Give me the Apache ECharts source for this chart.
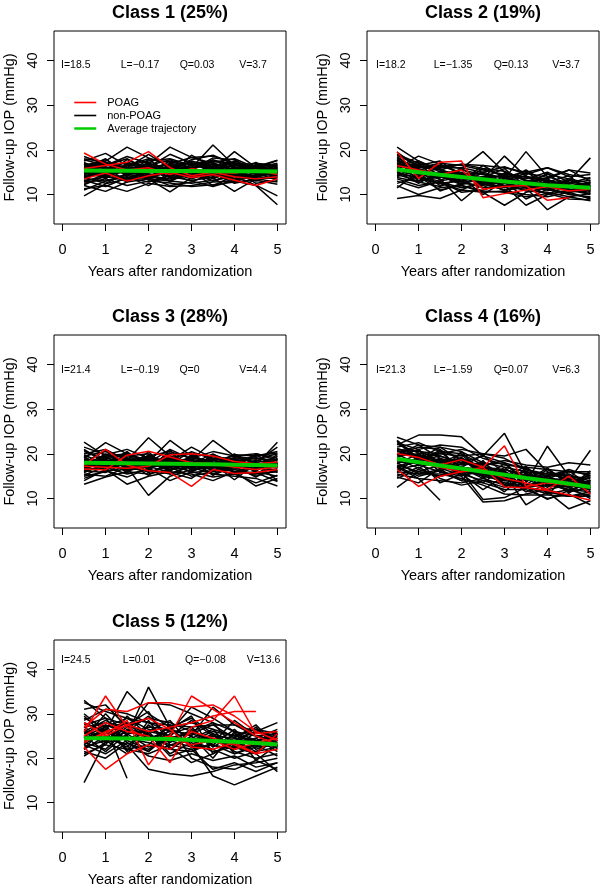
<!DOCTYPE html>
<html>
<head>
<meta charset="utf-8">
<script src="https://cdn.jsdelivr.net/npm/echarts@6/dist/echarts.min.js"></script>
<style>html,body{margin:0;padding:0;background:#fff}#c{width:600px;height:888px}</style>
</head>
<body>
<div id="c"></div>
<script>
// ---------- data ----------
const T = [0.5, 1, 1.5, 2, 2.5, 3, 3.5, 4, 4.5, 5];
const xTicks = [0, 1, 2, 3, 4, 5];
const yTicks = [10, 20, 30, 40];
const titles = ['Class 1 (25%)', 'Class 2 (19%)', 'Class 3 (28%)', 'Class 4 (16%)', 'Class 5 (12%)'];
const stats = [
  ['I=18.5', 'L=\u22120.17', 'Q=0.03', 'V=3.7'],
  ['I=18.2', 'L=\u22121.35', 'Q=0.13', 'V=3.7'],
  ['I=21.4', 'L=\u22120.19', 'Q=0', 'V=4.4'],
  ['I=21.3', 'L=\u22121.59', 'Q=0.07', 'V=6.3'],
  ['I=24.5', 'L=0.01', 'Q=\u22120.08', 'V=13.6']
];
const legendNames = ['POAG', 'non-POAG', 'Average trajectory'];

const c1Black = [
  [9.7, 12.4, 13.5, 14.0, 13.2, 14.5, 13.8, 14.6, 13.9, 14.8],
  [17.5, 19.2, 16.5, 18.0, 17.2, 16.8, 17.5, 17.0, 16.2, 17.7],
  [16.0, 17.5, 20.6, 18.2, 16.5, 15.9, 16.8, 15.5, 16.1, 15.3],
  [14.2, 15.0, 15.5, 16.8, 20.6, 18.3, 17.0, 16.0, 15.2, 16.0],
  [15.5, 16.2, 15.0, 14.8, 15.5, 16.0, 21.1, 16.5, 15.7, 14.9],
  [13.0, 14.0, 13.2, 14.0, 15.0, 14.2, 15.5, 19.6, 16.0, 15.1],
  [12.0, 10.7, 12.8, 13.5, 13.0, 12.5, 13.2, 14.0, 12.1, 9.7],
  [11.3, 12.0, 10.7, 12.5, 11.8, 12.0, 12.8, 13.0, 12.0, 7.7],
  [14.8, 13.8, 14.2, 13.5, 10.6, 13.8, 14.6, 13.5, 14.2, 15.0],
  [16.5, 15.8, 17.2, 16.0, 16.9, 18.3, 18.6, 17.0, 16.5, 16.2],
  [15.0, 16.8, 15.5, 16.2, 15.8, 17.8, 18.8, 16.8, 15.9, 17.6],
  [13.5, 13.0, 14.5, 15.2, 14.0, 13.2, 13.8, 10.7, 13.5, 14.0],
  [17.0, 16.0, 16.5, 17.5, 18.0, 16.5, 15.8, 16.5, 17.0, 16.5],
  [14.0, 14.8, 13.5, 15.0, 16.2, 14.5, 15.2, 14.0, 14.8, 13.2],
  [16.2, 14.5, 17.8, 15.5, 14.5, 16.2, 14.0, 15.8, 16.5, 15.5],
  [12.5, 13.5, 12.0, 13.0, 12.6, 11.8, 12.2, 12.8, 13.2, 12.3],
  [18.0, 17.2, 16.0, 15.0, 17.5, 16.0, 17.2, 18.0, 16.0, 15.8],
  [13.8, 12.5, 14.8, 14.2, 13.5, 15.5, 13.0, 14.5, 13.0, 14.5],
  [15.8, 18.0, 14.5, 13.8, 15.0, 14.0, 16.5, 15.0, 14.2, 16.8],
  [11.0, 13.0, 14.0, 12.0, 14.5, 13.0, 11.8, 13.2, 14.0, 13.5],
  [16.8, 15.2, 16.0, 19.0, 16.0, 15.0, 14.5, 14.8, 15.5, 15.2],
  [14.5, 16.0, 13.0, 14.5, 13.0, 17.0, 16.0, 13.5, 15.0, 14.0],
  [15.2, 14.2, 15.8, 15.0, 16.5, 15.2, 12.0, 14.2, 13.8, 16.2],
  [17.8, 16.5, 18.5, 17.0, 15.5, 17.5, 16.2, 17.2, 15.2, 14.4],
  [12.8, 14.5, 16.0, 13.8, 12.0, 12.8, 14.8, 12.5, 13.5, 12.8],
  [16.5, 17.8, 15.2, 16.5, 17.8, 15.8, 17.8, 16.2, 14.5, 15.8],
  [13.2, 11.8, 13.8, 12.8, 14.2, 15.8, 13.5, 15.5, 12.5, 13.0],
  [14.6, 15.5, 14.8, 17.8, 14.8, 13.5, 15.0, 17.5, 15.8, 14.7],
  [15.9, 13.5, 16.8, 15.8, 13.8, 16.8, 15.5, 13.0, 16.8, 16.5],
  [18.5, 16.8, 17.0, 16.2, 19.0, 17.0, 17.5, 16.5, 16.0, 17.0],
  [16.2, 17.0, 14.2, 16.5, 15.2, 14.0, 17.0, 15.2, 14.0, 15.5],
  [14.0, 15.8, 16.2, 13.2, 17.0, 16.0, 14.2, 16.8, 15.0, 16.5],
  [17.2, 14.8, 15.0, 17.2, 14.2, 18.8, 16.0, 15.0, 17.2, 14.2],
  [12.2, 14.2, 15.2, 14.8, 15.8, 14.8, 13.0, 14.8, 16.2, 14.8],
  [15.5, 16.5, 18.0, 15.5, 16.8, 15.5, 18.2, 17.8, 15.0, 16.0],
  [13.6, 15.2, 12.8, 15.8, 13.8, 14.2, 15.8, 12.8, 14.5, 15.8],
  [16.8, 13.8, 16.8, 14.2, 15.8, 17.2, 14.8, 16.0, 13.5, 13.8],
  [14.8, 17.2, 15.8, 16.8, 12.8, 15.8, 16.8, 14.2, 16.5, 15.0]
];
const c1Red = [
  [19.3, 16.8, 15.5, 16.0, 14.5, 15.8, 15.0, 14.8, 15.5, 14.5],
  [15.8, 16.5, 17.2, 19.6, 16.0, 14.2, 15.0, 14.0, 13.5, 14.0],
  [13.5, 14.8, 13.0, 14.2, 15.0, 13.8, 14.5, 13.2, 12.0, 13.5]
];
const c1Avg = [15.35, 15.33, 15.31, 15.29, 15.27, 15.25, 15.23, 15.2, 15.18, 15.15];

const c2Black = [
  [9.1, 9.8, 9.1, 11.0, 10.5, 10.8, 10.0, 9.5, 10.5, 9.0],
  [20.6, 17.5, 15.0, 14.5, 13.0, 12.5, 11.5, 12.0, 11.0, 10.5],
  [18.2, 15.5, 16.5, 15.8, 19.6, 15.0, 13.0, 12.5, 11.5, 12.0],
  [16.0, 18.6, 16.8, 14.8, 13.5, 18.6, 14.0, 13.0, 12.0, 11.5],
  [14.5, 13.0, 14.0, 12.5, 12.0, 13.5, 19.6, 14.0, 12.5, 11.8],
  [17.0, 14.5, 13.5, 8.6, 12.5, 11.0, 12.0, 11.0, 10.5, 11.0],
  [12.0, 10.0, 11.5, 12.0, 10.5, 7.6, 10.5, 11.5, 10.0, 9.5],
  [15.0, 13.5, 12.5, 13.0, 11.5, 12.0, 7.6, 10.0, 11.0, 10.0],
  [13.5, 12.0, 12.8, 11.5, 12.5, 11.0, 11.5, 6.6, 9.5, 8.6],
  [11.5, 15.0, 10.8, 12.5, 14.0, 13.0, 12.5, 12.0, 13.0, 18.2],
  [17.5, 16.0, 17.0, 16.5, 15.5, 14.5, 14.0, 13.5, 15.5, 14.8],
  [16.5, 17.5, 15.5, 16.8, 16.5, 16.0, 15.0, 16.0, 14.5, 13.5],
  [15.5, 14.0, 13.0, 14.0, 15.0, 13.5, 12.8, 14.5, 13.5, 12.5],
  [18.8, 16.5, 17.5, 14.0, 13.8, 14.2, 13.5, 15.0, 12.8, 12.2],
  [14.0, 15.5, 12.0, 13.5, 12.8, 11.5, 12.5, 11.0, 12.0, 11.0],
  [17.8, 13.0, 14.5, 15.5, 14.5, 12.8, 15.5, 12.5, 11.5, 12.8],
  [13.0, 11.5, 13.0, 10.5, 11.0, 12.5, 10.8, 10.5, 9.5, 10.2],
  [16.8, 15.8, 14.0, 13.0, 16.5, 13.8, 12.0, 11.8, 13.5, 11.2],
  [15.2, 12.5, 15.2, 14.8, 12.5, 14.8, 13.8, 13.2, 11.0, 12.0],
  [19.0, 17.0, 16.0, 16.0, 15.0, 16.2, 14.5, 16.0, 14.0, 14.5],
  [12.5, 14.0, 11.0, 12.0, 10.8, 10.5, 9.5, 10.2, 9.0, 8.8],
  [17.2, 14.8, 15.8, 13.5, 14.0, 13.0, 14.8, 13.8, 15.5, 13.0],
  [14.8, 13.8, 12.5, 11.0, 13.2, 12.0, 11.0, 12.8, 10.8, 11.5],
  [16.2, 16.8, 13.2, 15.0, 11.5, 14.2, 12.2, 10.0, 12.2, 10.8],
  [18.5, 15.2, 14.8, 12.8, 14.8, 11.8, 13.0, 12.2, 11.8, 12.5],
  [13.8, 12.8, 11.8, 13.8, 10.0, 13.0, 9.0, 11.2, 10.2, 9.2],
  [17.6, 16.2, 16.2, 16.8, 15.8, 15.2, 13.2, 13.0, 12.5, 13.8],
  [15.8, 17.2, 14.2, 12.2, 13.8, 15.8, 11.8, 14.8, 11.2, 10.2],
  [18.0, 14.2, 15.0, 14.2, 12.2, 12.8, 14.2, 11.5, 13.2, 11.8],
  [16.8, 15.0, 13.8, 15.8, 13.2, 10.8, 12.8, 13.5, 10.8, 12.8],
  [14.2, 16.5, 15.5, 12.8, 15.8, 14.0, 11.8, 12.8, 14.2, 10.5],
  [19.5, 16.0, 16.5, 14.8, 14.5, 13.8, 15.2, 11.8, 12.5, 13.2]
];
const c2Red = [
  [19.6, 13.6, 17.2, 17.5, 9.3, 10.2, 11.0, 11.8, 10.8, 11.2],
  [16.5, 15.5, 14.5, 15.5, 11.2, 11.8, 12.0, 8.7, 9.3, null]
];
const c2Avg = [15.6, 15.0, 14.4, 13.9, 13.4, 12.9, 12.5, 12.1, 11.8, 11.5];

const c3Black = [
  [22.6, 19.5, 20.0, 18.0, 17.5, 18.5, 17.0, 18.0, 17.5, 18.0],
  [19.0, 22.5, 20.0, 18.5, 19.0, 20.0, 19.5, 18.5, 19.0, 18.5],
  [17.5, 18.0, 18.5, 23.6, 19.5, 18.0, 17.5, 17.0, 17.8, 18.2],
  [18.5, 17.2, 19.0, 18.2, 23.0, 19.5, 18.0, 18.8, 17.0, 17.5],
  [16.0, 17.5, 16.5, 17.5, 18.0, 18.5, 23.0, 19.5, 18.0, 17.0],
  [15.0, 16.0, 17.0, 10.7, 15.0, 16.5, 17.0, 16.0, 15.5, 16.0],
  [13.2, 14.8, 16.0, 15.5, 16.5, 17.0, 15.5, 15.0, 14.5, 12.8],
  [14.0, 16.5, 13.2, 15.0, 16.0, 15.5, 14.0, 16.0, 12.8, 14.5],
  [17.0, 18.5, 17.5, 19.0, 18.5, 21.5, 19.0, 18.0, 17.5, 22.6],
  [20.5, 19.0, 18.0, 19.5, 20.5, 19.0, 18.5, 19.5, 20.0, 19.0],
  [18.0, 16.5, 18.0, 17.0, 17.5, 16.0, 18.0, 17.5, 16.5, 19.5],
  [16.5, 17.0, 15.5, 16.5, 15.5, 17.5, 16.5, 15.5, 16.0, 15.0],
  [19.5, 20.5, 19.0, 17.5, 18.0, 17.5, 19.0, 18.0, 19.5, 20.5],
  [21.0, 18.0, 19.5, 20.0, 17.0, 19.5, 17.5, 16.5, 18.0, 17.0],
  [15.5, 15.0, 17.0, 16.0, 17.0, 15.0, 16.0, 17.0, 15.0, 16.5],
  [17.8, 19.5, 16.8, 18.5, 16.5, 18.0, 17.2, 19.0, 16.8, 18.8],
  [18.8, 17.8, 20.5, 16.8, 19.0, 17.8, 20.0, 17.5, 18.5, 17.8],
  [16.8, 18.5, 17.2, 19.5, 17.8, 20.5, 18.8, 16.0, 17.2, 16.0],
  [20.0, 21.0, 18.5, 18.0, 21.0, 18.8, 17.8, 19.2, 18.2, 21.5],
  [14.5, 16.2, 14.8, 16.8, 14.0, 16.0, 14.8, 15.5, 13.5, 15.2],
  [19.2, 16.8, 18.8, 17.8, 18.8, 16.8, 18.5, 17.8, 19.8, 17.2],
  [17.2, 20.0, 17.8, 16.2, 19.8, 20.2, 16.8, 18.5, 16.2, 19.0],
  [15.8, 17.8, 16.2, 17.2, 15.8, 14.5, 17.8, 14.2, 17.8, 14.0],
  [21.5, 19.8, 21.0, 19.0, 18.2, 19.0, 20.5, 19.5, 18.8, 20.0],
  [18.2, 18.8, 15.8, 18.8, 16.8, 18.8, 15.2, 17.2, 14.8, 17.8],
  [16.2, 15.8, 18.2, 15.2, 18.5, 15.8, 16.2, 18.8, 15.8, 13.8],
  [19.8, 17.5, 16.5, 20.5, 15.5, 17.2, 19.5, 16.8, 20.0, 18.5],
  [17.0, 19.2, 19.8, 17.0, 20.2, 17.0, 17.2, 20.0, 17.5, 16.8],
  [18.6, 17.0, 18.2, 19.2, 17.2, 18.2, 16.2, 17.8, 19.2, 17.5],
  [16.6, 18.2, 17.0, 18.2, 16.2, 19.2, 18.2, 15.8, 16.8, 19.8],
  [20.8, 18.2, 20.2, 17.8, 19.2, 16.5, 19.8, 18.2, 17.2, 16.2],
  [15.2, 17.2, 18.8, 15.8, 17.5, 17.8, 15.5, 17.5, 18.2, 15.8],
  [18.0, 20.8, 16.2, 19.8, 16.0, 19.8, 17.0, 16.5, 15.5, 18.0],
  [19.5, 16.2, 19.2, 16.5, 20.8, 16.2, 17.8, 19.8, 19.5, 20.2],
  [17.6, 18.6, 17.6, 18.0, 18.4, 18.0, 18.6, 17.2, 17.8, 17.0],
  [16.0, 19.8, 17.8, 19.0, 17.2, 17.2, 16.8, 18.0, 16.2, 18.8]
];
const c3Red = [
  [16.6, 16.4, 19.7, 20.6, 19.3, 18.0, 17.8, 17.0, 16.5, 17.0],
  [17.5, 21.0, 17.5, 16.2, 15.8, 12.7, 16.5, 15.6, 15.8, 16.5],
  [17.2, 17.0, 16.8, 17.2, 19.8, 20.0, 19.5, 18.3, 17.8, 18.2]
];
const c3Avg = [18.0, 17.95, 17.9, 17.85, 17.8, 17.7, 17.65, 17.55, 17.5, 17.4];

const c4Black = [
  [23.7, 22.0, 21.5, 20.5, 18.0, 17.0, 16.0, 15.5, 14.5, 13.5],
  [22.0, 24.2, 24.2, 23.8, 19.5, 18.0, 16.5, 15.5, 15.0, 14.0],
  [12.5, 16.0, 17.5, 15.5, 14.0, 13.5, 12.5, 13.0, 12.0, 11.5],
  [17.0, 14.5, 9.6, null, null, null, null, null, null, null],
  [16.5, 17.5, 16.0, 15.0, 9.2, 9.5, 11.0, 12.0, 10.5, 11.0],
  [17.5, 16.0, 15.0, 16.0, 9.8, 10.2, 12.5, 11.0, 12.0, 10.5],
  [19.0, 18.5, 19.5, 18.0, 19.5, 24.6, 15.5, 14.5, 13.5, 12.5],
  [20.5, 19.5, 18.5, 17.0, 16.5, 15.5, 8.6, 11.5, 10.5, 11.5],
  [21.0, 20.5, 20.0, 19.5, 20.0, 19.5, 21.0, 16.0, 14.0, 12.0],
  [18.5, 18.0, 17.0, 16.5, 15.0, 14.0, 13.5, 21.7, 15.0, 14.5],
  [15.5, 14.5, 14.0, 13.5, 14.5, 13.0, 12.5, 11.5, 7.7, 9.5],
  [16.0, 15.5, 16.5, 14.0, 13.5, 12.0, 12.0, 10.0, 11.0, 8.6],
  [14.5, 16.5, 15.0, 16.5, 15.5, 14.5, 13.0, 13.5, 14.0, 20.8],
  [22.5, 21.0, 22.0, 21.5, 19.0, 17.5, 17.0, 16.5, 16.0, 16.0],
  [19.5, 20.0, 18.0, 19.0, 17.0, 16.5, 15.0, 14.5, 16.0, 15.5],
  [20.0, 17.5, 19.0, 17.5, 18.0, 15.0, 16.0, 13.5, 14.5, 13.0],
  [17.0, 19.0, 17.5, 18.5, 16.0, 16.0, 14.0, 15.0, 13.0, 14.0],
  [21.5, 22.5, 20.5, 20.0, 17.5, 18.5, 17.5, 17.0, 18.0, 17.5],
  [18.0, 15.5, 15.5, 14.5, 13.0, 11.0, 10.8, 10.8, 10.5, 10.5],
  [15.0, 17.0, 14.5, 13.0, 14.0, 12.5, 14.5, 12.0, 13.0, 12.0],
  [19.8, 21.5, 21.0, 16.0, 15.5, 13.5, 13.0, 14.0, 11.5, 12.5],
  [23.0, 19.0, 20.0, 21.0, 20.0, 19.0, 16.5, 15.0, 16.5, 15.0],
  [16.8, 18.5, 13.5, 15.5, 12.0, 15.0, 11.5, 13.0, 12.5, 10.0],
  [20.8, 18.8, 21.5, 18.5, 16.5, 14.0, 15.5, 12.5, 15.5, 13.2],
  [17.8, 20.0, 16.0, 14.0, 18.5, 13.0, 16.8, 14.0, 12.5, 16.2],
  [18.8, 16.8, 18.8, 16.0, 13.5, 17.0, 13.0, 16.5, 13.8, 11.2],
  [15.8, 19.5, 17.0, 19.2, 14.8, 11.5, 15.8, 11.0, 15.0, 12.8],
  [22.2, 20.2, 19.5, 17.8, 17.5, 18.0, 14.0, 16.8, 13.0, 14.8],
  [14.8, 13.5, 16.8, 15.2, 16.0, 15.8, 12.5, 9.8, 11.8, 13.8],
  [19.2, 21.0, 15.8, 20.5, 15.2, 16.5, 15.2, 14.5, 14.2, 11.8],
  [21.2, 19.5, 17.8, 17.0, 19.8, 15.5, 14.8, 13.8, 12.8, 13.5],
  [18.2, 17.8, 20.5, 16.8, 14.5, 17.8, 13.8, 15.8, 15.2, 12.2],
  [20.5, 20.8, 18.2, 19.8, 15.8, 14.8, 17.2, 12.8, 13.5, 15.2],
  [17.2, 15.0, 16.2, 17.8, 17.8, 12.8, 14.5, 15.2, 11.2, 14.2],
  [22.8, 18.2, 20.8, 18.8, 16.8, 16.2, 12.2, 14.8, 16.2, 12.8],
  [19.8, 22.0, 19.0, 15.2, 16.2, 14.2, 16.2, 13.2, 12.0, 15.8]
];
const c4Red = [
  [20.1, 19.2, 17.5, 18.7, 17.0, 12.6, 12.4, 11.8, 10.8, 9.6],
  [16.5, 12.7, 15.0, 16.0, 17.0, 21.8, 12.7, 13.5, 13.0, 12.5],
  [19.0, 18.0, 17.0, 16.0, 16.5, 14.5, 13.5, 12.0, 15.0, 11.0]
];
const c4Avg = [18.9, 18.1, 17.4, 16.7, 16.0, 15.3, 14.6, 14.0, 13.3, 12.6];

const c5Black = [
  [14.5, 24.0, 26.0, 25.0, 24.0, 22.5, 23.0, 22.0, 23.0, 24.0],
  [33.0, 29.0, 27.5, 26.0, 25.0, 24.0, 25.0, 24.5, 23.5, 22.5],
  [31.0, 32.0, 27.0, 29.0, 28.0, 26.0, 24.0, 22.5, 21.0, 17.0],
  [28.0, 26.0, 35.0, 30.0, 27.0, 29.0, 25.5, 24.0, 26.0, 25.0],
  [26.0, 24.5, 25.0, 36.0, 27.0, 28.0, 26.5, 25.0, 24.0, 23.5],
  [23.5, 27.0, 15.5, null, null, null, null, null, null, null],
  [22.0, 25.0, 23.0, 17.5, 16.5, 16.0, 17.0, 18.5, 19.0, 20.0],
  [27.0, 28.0, 26.0, 32.5, 32.0, 30.0, 28.0, 26.0, 24.0, 25.0],
  [25.0, 27.0, 29.0, 28.0, 26.0, 31.5, 29.0, 26.0, 25.0, 23.0],
  [23.0, 21.0, 24.0, 22.0, 25.0, 23.0, 16.0, 14.0, 16.0, 18.0],
  [29.0, 27.0, 28.0, 25.0, 23.0, 22.0, 17.5, 19.0, 17.0, 19.0],
  [21.0, 23.0, 22.0, 21.0, 23.0, 24.0, 22.0, 20.0, 21.5, 24.0],
  [30.0, 26.0, 24.0, 27.0, 26.5, 25.0, 31.5, 27.5, 26.0, 28.0],
  [24.5, 26.5, 24.5, 23.5, 22.0, 21.5, 23.5, 28.5, 25.0, 24.0],
  [26.5, 23.5, 27.0, 24.5, 26.0, 25.5, 24.0, 23.0, 27.0, 22.0],
  [22.5, 24.0, 21.0, 26.0, 21.0, 23.5, 21.5, 22.5, 21.0, 25.5],
  [28.5, 31.0, 30.0, 28.0, 27.5, 27.0, 27.5, 27.5, 25.0, 25.5],
  [25.5, 27.5, 25.5, 22.5, 24.0, 24.5, 26.5, 21.0, 22.5, 23.0],
  [23.5, 22.0, 26.5, 25.5, 22.5, 19.0, 21.0, 23.5, 24.5, 21.5],
  [27.5, 29.0, 23.5, 21.5, 25.5, 27.0, 22.5, 25.5, 23.5, 26.0],
  [24.0, 25.5, 28.0, 24.0, 27.0, 22.5, 24.5, 22.0, 26.0, 24.5],
  [29.5, 25.0, 22.5, 27.5, 23.5, 26.5, 23.0, 26.5, 22.0, 23.5],
  [21.5, 20.0, 23.5, 20.5, 19.5, 21.0, 19.5, 20.5, 18.0, 19.0],
  [26.0, 28.5, 26.0, 29.5, 24.5, 25.5, 27.5, 24.5, 27.5, 22.5],
  [25.0, 21.5, 25.5, 26.0, 28.5, 23.0, 25.5, 21.5, 20.0, 21.0],
  [32.5, 30.5, 29.0, 26.5, 25.0, 28.5, 25.0, 23.0, 22.5, 24.5],
  [23.0, 26.5, 22.0, 23.0, 27.5, 20.0, 18.0, 17.5, 19.5, 17.5],
  [27.0, 24.0, 27.5, 30.5, 23.0, 24.0, 26.0, 25.0, 26.5, 25.5],
  [24.5, 30.0, 25.0, 21.5, 26.5, 29.5, 21.0, 24.0, 21.5, 22.5],
  [20.5, 23.5, 24.5, 25.5, 20.5, 22.0, 23.0, 21.0, 23.0, 20.5],
  [26.0, 23.0, 29.5, 25.0, 24.5, 26.0, 28.0, 22.5, 24.5, 26.5],
  [22.0, 27.5, 21.5, 28.5, 22.0, 25.0, 20.0, 26.0, 19.5, 23.0]
];
const c5Red = [
  [26.0, 34.0, 27.0, 24.0, 25.0, 23.0, 24.0, 22.0, 23.5, 24.5],
  [22.5, 17.5, 21.0, 23.0, 22.0, 26.0, 24.5, 23.0, 21.0, 22.0],
  [27.0, 31.0, 30.5, 32.5, 32.5, 31.5, 32.0, 29.5, 26.0, 24.0],
  [24.0, 25.5, 28.5, 18.5, 25.0, 34.0, 31.0, 28.0, 25.0, 23.0],
  [25.0, 28.0, 26.0, 25.0, 19.0, 27.0, 28.5, 34.0, 25.5, 26.0],
  [23.5, 26.0, 27.5, 26.0, 27.0, 28.0, 29.5, 30.5, 30.5, null],
  [28.0, 25.0, 27.5, 29.0, 26.5, 22.5, 22.0, 23.5, 21.0, 25.5]
];
const c5Avg = [24.5, 24.5, 24.45, 24.4, 24.3, 24.1, 23.9, 23.7, 23.4, 23.1];

// ---------- layout ----------
const FONT = '"Liberation Sans", Arial, Helvetica, sans-serif';
const panels = [
  { black: c1Black, red: c1Red, avg: c1Avg, left: 54, top: 31, textY: 65, statX: [61, 140, 197, 253] },
  { black: c2Black, red: c2Red, avg: c2Avg, left: 367, top: 31, textY: 65, statX: [376, 453, 511, 566] },
  { black: c3Black, red: c3Red, avg: c3Avg, left: 54, top: 335, textY: 370, statX: [61, 140, 189.5, 253] },
  { black: c4Black, red: c4Red, avg: c4Avg, left: 367, top: 335, textY: 370, statX: [376, 453, 511, 566] },
  { black: c5Black, red: c5Red, avg: c5Avg, left: 54, top: 640, textY: 660, statX: [61, 139, 205.5, 263.5] }
];
const W = 232, H = 193;

const grid = [], xAxis = [], yAxis = [], series = [], title = [], graphic = [];

function toData(vals) {
  const d = [];
  vals.forEach((v, i) => { if (v !== null) d.push([T[i], v]); });
  return d;
}

panels.forEach((p, gi) => {
  grid.push({ left: p.left, top: p.top, width: W, height: H, show: true, borderColor: '#000', borderWidth: 1, backgroundColor: 'transparent' });
  xAxis.push({
    type: 'value', gridIndex: gi, min: -0.2, max: 5.2,
    name: 'Years after randomization', nameLocation: 'middle', nameGap: 40,
    nameTextStyle: { fontFamily: FONT, fontSize: 14.5, color: '#000' },
    axisLine: { show: false, onZero: false },
    axisTick: { show: true, inside: false, length: 7, customValues: xTicks, lineStyle: { color: '#000', width: 1 } },
    axisLabel: { customValues: xTicks, margin: 18, fontFamily: FONT, fontSize: 14.5, color: '#000' },
    splitLine: { show: false }
  });
  yAxis.push({
    type: 'value', gridIndex: gi, min: 3.4, max: 46.6,
    name: 'Follow-up IOP (mmHg)', nameLocation: 'middle', nameGap: 37, nameRotate: 90,
    nameTextStyle: { fontFamily: FONT, fontSize: 14.5, color: '#000' },
    axisLine: { show: false, onZero: false },
    axisTick: { show: true, inside: false, length: 7, customValues: yTicks, lineStyle: { color: '#000', width: 1 } },
    axisLabel: { customValues: yTicks, rotate: 90, margin: 14, fontFamily: FONT, fontSize: 14.5, color: '#000' },
    splitLine: { show: false }
  });
  title.push({
    text: titles[gi], left: p.left + W / 2, top: p.top - 27, textAlign: 'center', padding: 0,
    textStyle: { fontFamily: FONT, fontSize: 18, fontWeight: 'bold', color: '#000' }
  });
  p.black.forEach(v => series.push({
    type: 'line', name: legendNames[1], xAxisIndex: gi, yAxisIndex: gi, data: toData(v),
    symbol: 'none', silent: true, lineStyle: { color: '#000', width: 1.5 }, itemStyle: { color: '#000' }, z: 2
  }));
  p.red.forEach(v => series.push({
    type: 'line', name: legendNames[0], xAxisIndex: gi, yAxisIndex: gi, data: toData(v),
    symbol: 'none', silent: true, lineStyle: { color: '#ff0000', width: 1.5 }, itemStyle: { color: '#ff0000' }, z: 3
  }));
  series.push({
    type: 'line', name: legendNames[2], xAxisIndex: gi, yAxisIndex: gi, data: toData(p.avg),
    symbol: 'none', silent: true, lineStyle: { color: '#00cd00', width: 4 }, itemStyle: { color: '#00cd00' }, z: 4
  });
  stats[gi].forEach((s, k) => {
    graphic.push({
      type: 'text', x: p.statX[k], y: p.textY, silent: true,
      style: { text: s, font: '10.5px ' + FONT, fill: '#000', align: k === 0 ? 'left' : 'center', verticalAlign: 'middle' }
    });
  });
});

const chart = echarts.init(document.getElementById('c'), null, { renderer: 'canvas' });
chart.setOption({
  animation: false,
  backgroundColor: '#fff',
  title, grid, xAxis, yAxis, series, graphic,
  legend: {
    data: [
      { name: legendNames[0], lineStyle: { width: 1.6, color: '#ff0000' }, itemStyle: { color: 'transparent', borderWidth: 0 } },
      { name: legendNames[1], lineStyle: { width: 1.6, color: '#000' }, itemStyle: { color: 'transparent', borderWidth: 0 } },
      { name: legendNames[2], lineStyle: { width: 2.5, color: '#00cd00' }, itemStyle: { color: 'transparent', borderWidth: 0 } }
    ],
    orient: 'vertical', left: 73, top: 97, padding: 0,
    itemWidth: 22, itemHeight: 12, itemGap: 2, selectedMode: false,
    textStyle: { fontFamily: FONT, fontSize: 11, color: '#000', padding: [0, 0, 0, 6] }
  }
});
</script>
</body>
</html>
